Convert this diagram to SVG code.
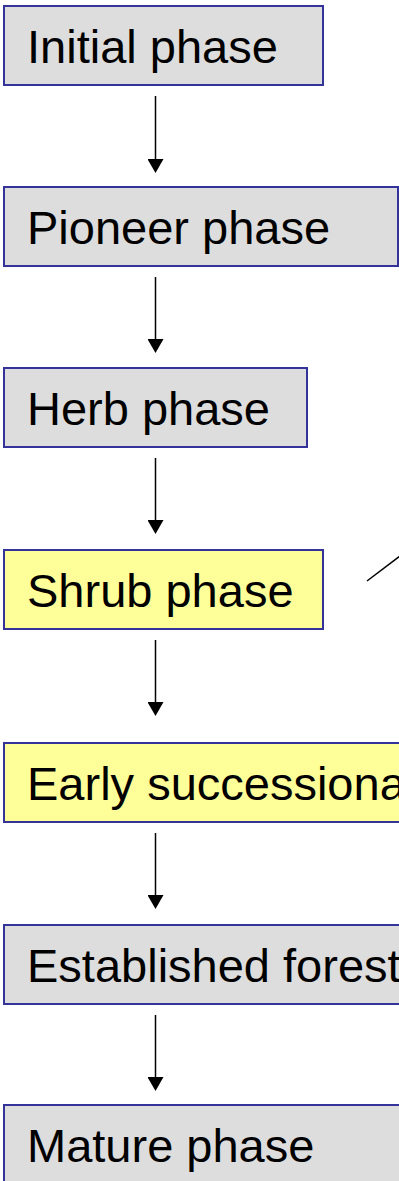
<svg xmlns="http://www.w3.org/2000/svg" width="399" height="1181" viewBox="0 0 399 1181">
<style>
.box{stroke:#333399;stroke-width:2}
.gray{fill:#DDDDDD}
.yel{fill:#FFFF99}
.t{font-family:"Liberation Sans",Arial,sans-serif;font-size:47px;fill:#000}
.c{stroke:#000;stroke-width:1.5;fill:none}
.a{marker-end:url(#ah)}
</style>
<defs>
<marker id="ah" viewBox="0 0 14 16" refX="1" refY="8" markerWidth="14" markerHeight="16" markerUnits="userSpaceOnUse" orient="auto">
<path d="M0,0 L14,8 L0,16 Z" fill="#000"/>
</marker>
</defs>
<rect width="399" height="1181" fill="#fff"/>
<g id="connectors">
<line class="c a" x1="155.5" y1="96" x2="155.5" y2="160"/>
<line class="c a" x1="155.5" y1="277" x2="155.5" y2="340"/>
<line class="c a" x1="155.5" y1="458" x2="155.5" y2="521"/>
<line class="c a" x1="155.5" y1="640" x2="155.5" y2="703"/>
<line class="c a" x1="155.5" y1="833" x2="155.5" y2="896"/>
<line class="c a" x1="155.5" y1="1015" x2="155.5" y2="1078"/>
<line class="c" x1="367" y1="581" x2="400" y2="556"/>
</g>
<g id="initial">
<rect class="box gray" x="4" y="6" width="319" height="79"/>
<text class="t" x="27" y="63">Initial phase</text>
</g>
<g id="pioneer">
<rect class="box gray" x="4" y="187" width="394" height="79"/>
<text class="t" x="27" y="244">Pioneer phase</text>
</g>
<g id="herb">
<rect class="box gray" x="4" y="368" width="303" height="79"/>
<text class="t" x="27" y="425">Herb phase</text>
</g>
<g id="shrub">
<rect class="box yel" x="4" y="550" width="319" height="79"/>
<text class="t" x="27" y="607">Shrub phase</text>
</g>
<g id="early">
<rect class="box yel" x="4" y="743" width="420" height="79"/>
<text class="t" x="27" y="800">Early successional</text>
</g>
<g id="established">
<rect class="box gray" x="4" y="925" width="420" height="79"/>
<text class="t" x="27" y="982">Established forest</text>
</g>
<g id="mature">
<rect class="box gray" x="4" y="1105" width="420" height="90"/>
<text class="t" x="27" y="1162">Mature phase</text>
</g>
</svg>
